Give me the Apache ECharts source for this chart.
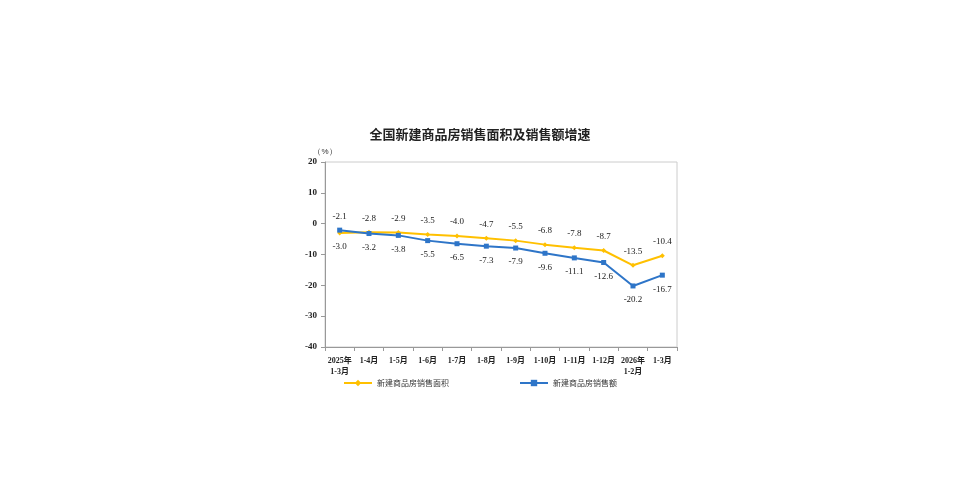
<!DOCTYPE html>
<html>
<head>
<meta charset="utf-8">
<script src="https://cdn.jsdelivr.net/npm/echarts@6/dist/echarts.min.js"></script>
<style>html,body{margin:0;background:#fff}#main{width:960px;height:496px}</style>
</head>
<body>
<div id="main"></div>
<script>
var categories = ['2025年\n1-3月', '1-4月', '1-5月', '1-6月', '1-7月', '1-8月', '1-9月', '1-10月', '1-11月', '1-12月', '2026年\n1-2月', '1-3月'];
var areaValues = [-3.0, -2.8, -2.9, -3.5, -4.0, -4.7, -5.5, -6.8, -7.8, -8.7, -13.5, -10.4];
var salesValues = [-2.1, -3.2, -3.8, -5.5, -6.5, -7.3, -7.9, -9.6, -11.1, -12.6, -20.2, -16.7];

var numFont = "'Liberation Serif', 'Noto Sans CJK SC', serif";

function withLabels(values, firstPos, restPos) {
    return values.map(function (v, i) {
        return { value: v, label: { position: i === 0 ? firstPos : restPos } };
    });
}

var myChart = echarts.init(document.getElementById('main'));
var option = {
    backgroundColor: '#fff',
    title: {
        text: '全国新建商品房销售面积及销售额增速',
        left: 'center',
        top: 123,
        textStyle: { fontSize: 13, fontWeight: 'bold', color: '#222', fontFamily: "'Noto Sans CJK SC', sans-serif" }
    },
    legend: {
        bottom: 104,
        left: 'center',
        itemGap: 70,
        itemWidth: 28,
        itemHeight: 8,
        textStyle: { fontSize: 8, color: '#333', fontFamily: "'Noto Sans CJK SC', sans-serif" },
        data: ['新建商品房销售面积', '新建商品房销售额']
    },
    grid: { left: 325, right: 283, top: 162, bottom: 149, show: true, borderColor: '#ccc', borderWidth: 1 },
    xAxis: {
        type: 'category',
        data: categories,
        axisLine: { onZero: false, lineStyle: { color: '#999' } },
        axisTick: { show: true, length: 4, lineStyle: { color: '#999' } },
        axisLabel: { color: '#222', fontSize: 8, fontWeight: 'bold', fontFamily: numFont, interval: 0, lineHeight: 11 }
    },
    yAxis: {
        type: 'value',
        min: -40,
        max: 20,
        interval: 10,
        splitLine: { show: false },
        axisLine: { show: true, lineStyle: { color: '#999' } },
        axisTick: { show: true, length: 4, lineStyle: { color: '#999' } },
        axisLabel: { color: '#222', fontSize: 9, fontWeight: 'bold', fontFamily: numFont },
        name: '（%）',
        nameGap: 6,
        nameTextStyle: { fontSize: 8, color: '#333', align: 'center' }
    },
    series: [{
        name: '新建商品房销售面积',
        type: 'line',
        data: withLabels(areaValues, 'bottom', 'top'),
        symbol: 'diamond',
        symbolSize: 5,
        lineStyle: { width: 2, color: '#FFC000' },
        itemStyle: { color: '#FFC000' },
        label: { show: true, fontSize: 9, color: '#222', fontFamily: numFont, distance: 7, formatter: function (p) { return p.value.toFixed(1); } }
    }, {
        name: '新建商品房销售额',
        type: 'line',
        data: withLabels(salesValues, 'top', 'bottom'),
        symbol: 'rect',
        symbolSize: 5,
        lineStyle: { width: 2, color: '#2E75C8' },
        itemStyle: { color: '#2E75C8' },
        label: { show: true, fontSize: 9, color: '#222', fontFamily: numFont, distance: 7, formatter: function (p) { return p.value.toFixed(1); } }
    }]
};
myChart.setOption(option);
</script>
</body>
</html>
